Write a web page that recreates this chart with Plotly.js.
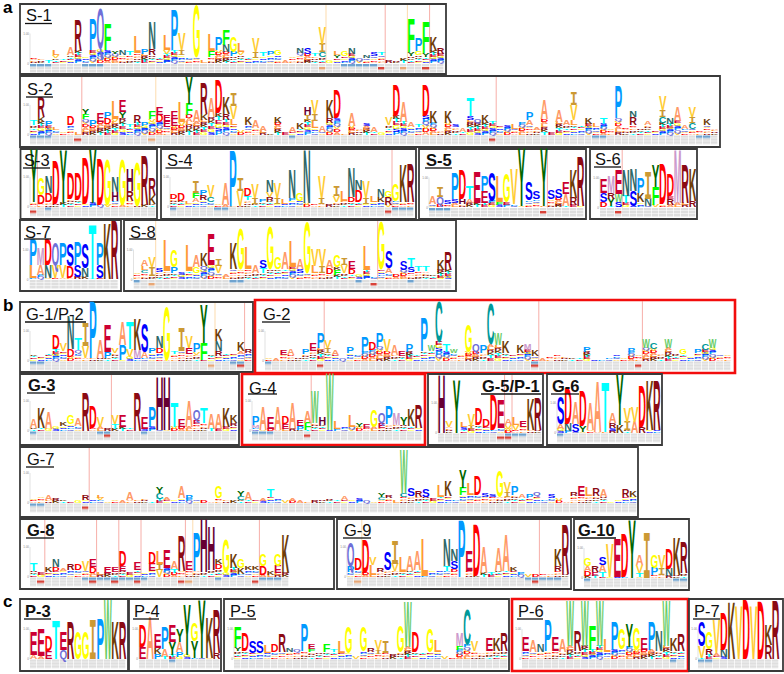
<!DOCTYPE html>
<html><head><meta charset="utf-8">
<script src="https://cdn.plot.ly/plotly-3.0.1.min.js"></script>
<style>html,body{margin:0;padding:0;background:#fff}#chart{width:784px;height:674px}</style>
</head><body><div id="chart"></div>
<script>
// Each column: background height, then residues bottom-to-top as letter + height.
const S1_stacks=["6","5","2","5V3L5","5","8A8","12R30","7","13P31","14Q40","13F25","9Y3","8N5","8T4","10L16","9P5","8R6N27","6","9V4L15","13P39","8I5V17","6","6G51","2","6F6L17","13P13","11N7F15","7P5G15","8V3L9","6","5I6V14","7T4","8P4","8G5","2","7","8Q2N5","9S6","7T3","6C5I8V17","2","5Y3L4","7G5","9N6","4","5N3","7S4","8T3","2","3","4","7Y4F33","8G4P13","6Y4F30","12K14","9R6"];
const S2_stacks=["10T5","13K5R20","9P5","5L3","3","10D9","2","16F5Y5","9P6","13E9","11D6P6","13V3L18","17Y6E11","8T3","12R7","9P4","13V3F8","13D7E7","8E6E6","9E7E7","9V4L20","20F11Y27","13A12","15K6R30","18A19","22D33","15R6K17","10L6V13I13","4","10K7","7A7","4A5","1","12K6","2","3A5","6K6","15I5H8","7L7I7V14","3A6","12R5K18","17D28","1","9A13","7","9S3","3A5","2","10V8","19D30","13A20","8A5","8T3","19D30","12K12","5","12K12","8S3","3A4","15S4T18","12Q4","12K7","13","10","9","6L5","12","10A5P8","5A3","16A19","2","13A11","10A5","10L5V15I13","10","11K6","8L4","11T6","6","17P32","8","10R8N6","6","10A4","5","12C6I7V14","11N6","14A14","6A4","6C6I6V10","5","10K6","7"];
const S3_stacks=["5Y53","3D9G17","5D9N16","3D44","4Y52","8D25","7D27","3D46","4Y54","2D46","2G45","6H9N15","2G45","6R10H22","1G44","2R48","3K9R17"];
const S4_stacks=["8D5","6D7","3L3","5A4F5I12","7R5P5","5C5V12","3","2A22","1P55","1V15I13","7T4D8","3I6V14","5P3","6R4V5N11","3I6V15","3L5","6P3N28","6G8","4N52","3","3I6V21","2","5V6I10","6L10","5D5N29","5D12N10","3I6V16","5L6","5K5N7","2R8G6","6G17","5K37","5R38"];
const S5_stacks=["3A7","2Q8I10","3S4","4S4P26","3H5D29","4A4T13","4E31","4E12P15","4P2S28","2F3L25","2E3G28","3V34","1Y57","7S18","8S8","1Y57","8S9","9S9","1A12E12","2R7K28","1R48"];
const S6_stacks=["0D5S9E14","1Y7R6M17","0S5W8E24","4T7N25","1S15N22","5K9P15","1N7I27","2F18Y22","3D40","2R6E3D22","4M53","4R38","0R6K32"];
const S7_stacks=["1L13P25","4A10M17","1N13D25","1V13Q22","1V13P22","1D12S22","2S12P23","2N9S24","1T53","1S13P21","0K55","0R58"];
const S8_stacks=["7","6C3L4A6","3I9V10","7S4","8L30","6P6G17","4S2","8L25","6G6A12","9Q4K13","14E30","6V7I7","4","10K26","10G39","10L22","6A8","6T5S8","10G42","10G11","10A16","12L25","6S4A10","6G50","6L7V16","6I7V16","5D6A7","4F5K3G11","6V8I7","5D5E8","4","9L24","3","10G47","6A5S17","4","9S9","7S5T9","8T5","8T5","5","9K10","9R18"];
const G1_stacks=["7","5","8","9T3D14","10V8","4D8N33","8Q3T11","3V12I23","3P56","3A18","3P6E27","8V5","1P15A23","4V8T27","3M8K30","3A6S28","8P5","8D5N12","1G52","7T3","10I23","7E6V12","6V3P9","1F17Y38","7","5R5N10K11","8","8","7A3K9","8R4"];
const G2_stacks=["3","2","6E5","6A6","3","7P5","10E7","13P15","8I5V7","6A5","2","8P6","7","9P15","11D7","14P14","9V13","6A10","5E5","9P7","7","10P33","10W6","19C40","9T8","8W4","7","9G27","9Q8","8P7","17C40","16W11","8K11","6","8K8","11M6","5K6","2","5","6","5","3","3","9P5","1","1","3","6","3","9P4","6","13W9","12C6","8","13W9","8","7G5","5","8P4","11C6","13W9","6","6"];
const G3_stacks=["3A9","3K20","2A17","4","5K4","7G9","5A7","0R38","3D22","4V10","2","2T5V9","4E11","3","0R38","2E11","4P20","1H53","1H53","4T24","4E8","4A26","7E4Q10","8T15","2A15","2A15","4K19","5R3K7"];
const G4_stacks=["3M3P9","1A23","2E12","1A23","2E5D8","2A25","1P4E6","1F7A12","8W32","6H8","1W56","2L8","5","4L11","4Y4","3E4","4G16","3E5Q10","7P18","6M11","6Y8","5K16","3R23"];
const G5_stacks=["0H58","6V6","0Y53","3S3L5","4I3V12","8D17","6D8","3D35","5E28","4V4A6","3V5L7","6E6","3K30","3R32"];
const G6_stacks=["4A5S27","2N7D36","1S8A22","1Y6D35","3A27","1A50","1T49","2S3R5A10","0K8Y50","3I8V14","0A11V15","0R6D41","3K48","3R48"];
const G7_stacks=["5","6","3A5","4","3","0.5","2","3R5","3","3V2L3","1","3","2","3A8","3","5","1","4C6Y6","3A3","3","5A12","4P4","3","2","1","5G12","3","2","3C4Y5","3A7","3","2A3","6T8","5","2","2A2","2","1","2","3","5","3","3A4","3","4","2","1","3C3Y4","5R3","2","6C4W43","7S8","6R6","6S8","4","6L11","7K15","3","8F7Y18","8L12","8D19","6S4","6S3","6G25","6I5V10","8P9","5A4","5P4","7Q4","3","5S4","4","0.5","7R4","7E10","7L9","7R7","6A8","1","3","6R7","6K6"];
const G8_stacks=["6T7","4","5K5","6D4N8","6A3","7R6","7D6","6V10","4D6E8","4","4E6","5E5","6E5D15","4","7E8","5","6E7D12","0V7I6L13","9E18","4T4A8","6R35","7E9","6P38","5H52","7H44","8D5K5","4G33","9K14","3K6G9","7K4","7K4","2D9G11","2K4","4E7G12","4K38"];
const G9_stacks=["5P6Q23","7D11","4D33","2L10V8","5R4","7S18","6V7I23","5L15","6A15","7A19","1L37","6","6","6T5N27","5D3S8N12","0P56","6E20","1D51","4A26","4","6A23","6A36","6K4","4","2","2","3","3","6R5K17","3R48"];
const G10_stacks=["2D5A5G7","2E4R6","1T5A7S8","1V33","1E38","1D43","0Y58","1T4V8A10","0I45","3P7G13","3I7V13","2N7D20","3K37","5R30"];
const P3_stacks=["0A4E23","0A3E27","0E8D15","0T38","0Q9E18","0R37","0G27","0G27","0I39","0P39","0W59","0K37","0R37"];
const P4_stacks=["0E12D22","0A42","0P5K6E14","2A8P22","4Y13E17","2P5A10Y13","4Y50","1Y17G18","1Y58","1K40","0R6R43"];
const P5_stacks=["8Y4F20","8D18","6S12","6S12","6L8","7D7","7R18","7N4","7Q3","8P27","7F3E5","6","7F8","7T2","6L12","6G26","2","8G24","7R4","5I4V10","6I12","4","7G25","12W45","7D20","7","7G23","7L12","2","1","9F4M13","14C35","8V10","6","8E13","8K13","8R18"];
const P6_stacks=["8E14","7A12","7N8","8P30","8E14","7A13","13W45","8R20","13W45","9F24","13W45","7L13","9P28","10G20","12Y23","9G22","9E12","9P28","8N20","13W45","8K13","8R17"];
const P7_stacks=["1V12S24","4R6G17","3A3V33","2N7D37","0K56","0V52","0D59","0V52","0D57","0R14K20","0R58"];

// Annotated columns in the table under each logo.
const S1_red=[47,53], S1_orange=[39,50], S1_blue=[0,1,2,7,8,9,42,43,44,45,46];
const S2_red=[6,62], S2_orange=[16], S2_blue=[0,1,2,35,76,77,90,91];
const S3_red=[0], S3_orange=[], S3_blue=[2];
const S4_red=[29], S4_orange=[], S4_blue=[0,6,7,30,31,32];
const S5_red=[15], S5_orange=[], S5_blue=[0,1,2];
const S6_red=[2], S6_orange=[], S6_blue=[];
const S7_red=[], S7_orange=[], S7_blue=[];
const S8_red=[32], S8_orange=[2], S8_blue=[0,13,14,30,37];
const G1_red=[28], G1_orange=[24], G1_blue=[0,1,27,28];
const G2_red=[7,36,50], G2_orange=[], G2_blue=[0,36];
const G3_red=[10], G3_orange=[], G3_blue=[0,9,10,15];
const G4_red=[7], G4_orange=[], G4_blue=[0,1,2];
const G5_red=[8,9], G5_orange=[], G5_blue=[9,10,11];
const G6_red=[], G6_orange=[], G6_blue=[0];
const G7_red=[7], G7_orange=[], G7_blue=[0,1];
const G8_red=[1,8,11,14,20,30], G8_orange=[21], G8_blue=[7,8,9,10,11,12,13,14,15,25,31,32,33];
const G9_red=[25], G9_orange=[1], G9_blue=[24,25,26,27,28];
const G10_red=[], G10_orange=[], G10_blue=[0,12,13];
const P3_red=[], P3_orange=[], P3_blue=[];
const P4_red=[], P4_orange=[], P4_blue=[4];
const P5_red=[], P5_orange=[], P5_blue=[];
const P6_red=[], P6_orange=[], P6_blue=[20];
const P7_red=[], P7_orange=[], P7_blue=[0,1];

const residueColors={A:"#ff9966",R:"#8b0a14",N:"#2f6868",D:"#ff0000",C:"#009999",Q:"#6f6fd8",E:"#cc0033",G:"#ffff00",H:"#660033",I:"#cc9933",L:"#ff9933",K:"#6e3d08",M:"#cc99cc",F:"#00ff00",P:"#0099ff",S:"#0000ff",T:"#00ffff",W:"#66cc66",Y:"#006600",V:"#ffcc33"};
const backgroundLetters=["R","S","A","E","V","K","P","L","G","D","T","Q"];
const axisTickValues=[0,30], axisTickLabels=["0","1.00"];

// Layout of the panels (frame in page pixels, logo origin, column count comes from the stacks).
const COL=7.4, LOGO_H=60, STRIP_H=10, W=784, H=674, FS=40;
const panels=[
 {t:"S-1",s:S1_stacks,r:S1_red,o:S1_orange,b:S1_blue,f:[20,446,4,74],x0:30,y0:63.5,lab:[25,15,52,23.5]},
 {t:"S-2",s:S2_stacks,r:S2_red,o:S2_orange,b:S2_blue,f:[20,720,76,147],x0:30,y0:135,lab:[26,89,53,97]},
 {t:"S-3",s:S3_stacks,r:S3_red,o:S3_orange,b:S3_blue,f:[20.5,157,149,219],x0:30,y0:207,lab:[23,160,50,168]},
 {t:"S-4",s:S4_stacks,r:S4_red,o:S4_orange,b:S4_blue,f:[161,416,149,219],x0:170,y0:207,lab:[165.5,160,192,168]},
 {t:"S-5",bold:1,s:S5_stacks,r:S5_red,o:S5_orange,b:S5_blue,f:[419,586,149,219],x0:429,y0:207.5,lab:[425,160,452,168]},
 {t:"S-6",s:S6_stacks,r:S6_red,o:S6_orange,b:S6_blue,f:[590,697,149,219],x0:600,y0:207.5,lab:[594,159,621,167]},
 {t:"S-7",s:S7_stacks,r:S7_red,o:S7_orange,b:S7_blue,f:[20,121,220,291],x0:29.5,y0:279.5,lab:[24,232,51,239]},
 {t:"S-8",s:S8_stacks,r:S8_red,o:S8_orange,b:S8_blue,f:[124,456,220,291],x0:133.5,y0:279.5,lab:[129,232,156,239]},
 {t:"G-1/P-2",s:G1_stacks,r:G1_red,o:G1_orange,b:G1_blue,f:[20,253,302,372],x0:30,y0:361,lab:[25,314,86,322]},
 {t:"G-2",red:1,s:G2_stacks,r:G2_red,o:G2_orange,b:G2_blue,f:[255,735,300,373],x0:265,y0:361,lab:[262,314,290,322]},
 {t:"G-3",bold:1,s:G3_stacks,r:G3_red,o:G3_orange,b:G3_blue,f:[20,239,374,445],x0:30,y0:431,lab:[27,385,55,393]},
 {t:"G-4",red:1,s:G4_stacks,r:G4_red,o:G4_orange,b:G4_blue,f:[242,425,374,445],x0:252,y0:431,lab:[248,388,277,394]},
 {t:"G-5/P-1",bold:1,s:G5_stacks,r:G5_red,o:G5_orange,b:G5_blue,f:[428,543,374,445],x0:438,y0:433,lab:[481,386,541,394]},
 {t:"G-6",bold:1,s:G6_stacks,r:G6_red,o:G6_orange,b:G6_blue,f:[547,662,374,445],x0:557,y0:433,lab:[551,386,579,394]},
 {t:"G-7",s:G7_stacks,r:G7_red,o:G7_orange,b:G7_blue,f:[20,638,447,517],x0:30,y0:503,lab:[26,459,54,467]},
 {t:"G-8",bold:1,s:G8_stacks,r:G8_red,o:G8_orange,b:G8_blue,f:[20,334,519,589],x0:30,y0:577,lab:[26,530,54,538]},
 {t:"G-9",s:G9_stacks,r:G9_red,o:G9_orange,b:G9_blue,f:[337,571,519,589],x0:347,y0:577,lab:[343,530,371,538]},
 {t:"G-10",bold:1,s:G10_stacks,r:G10_red,o:G10_orange,b:G10_blue,f:[574,689,519,590],x0:584,y0:578,lab:[577,530,616,538]},
 {t:"P-3",bold:1,s:P3_stacks,r:P3_red,o:P3_orange,b:P3_blue,f:[20,128,599,671],x0:30,y0:659,lab:[24,611,51,619]},
 {t:"P-4",s:P4_stacks,r:P4_red,o:P4_orange,b:P4_blue,f:[129,221,599,671],x0:139,y0:659,lab:[133,611,159,619]},
 {t:"P-5",s:P5_stacks,r:P5_red,o:P5_orange,b:P5_blue,f:[224,509,599,671],x0:234,y0:659,lab:[229,611,256,619]},
 {t:"P-6",red:1,s:P6_stacks,r:P6_red,o:P6_orange,b:P6_blue,f:[512,688,599,671],x0:522,y0:659,lab:[517,611,543,619]},
 {t:"P-7",s:P7_stacks,r:P7_red,o:P7_orange,b:P7_blue,f:[689,783,599,671],x0:698,y0:659,lab:[693,611,720,619]}
];
const sectionLabels=[["a",2,8],["b",2,305],["c",2,601]];

const px=v=>v/W, py=v=>1-v/H;
const traces=[], shapes=[], annotations=[];
const layout={width:W,height:H,margin:{l:0,r:0,t:0,b:0,pad:0},paper_bgcolor:"#fff",plot_bgcolor:"rgba(0,0,0,0)",showlegend:false,hovermode:false};

panels.forEach((p,i)=>{
  const k=i===0?"":String(i+1), xn="xaxis"+k, yn="yaxis"+k, xr="x"+k, yr="y"+k, n=p.s.length;
  layout[xn]={domain:[px(p.x0),px(p.x0+n*COL)],range:[0,n],anchor:yr,visible:false,fixedrange:true};
  layout[yn]={domain:[py(p.y0+STRIP_H),py(Math.max(0,p.y0-LOGO_H))],range:[-STRIP_H,Math.min(LOGO_H,p.y0)],anchor:xr,showgrid:false,zeroline:false,
    showline:false,ticks:"",tickmode:"array",tickvals:axisTickValues,ticktext:axisTickLabels,tickfont:{size:3,color:"#888",family:"Liberation Sans"},fixedrange:true};

  shapes.push({type:"rect",xref:"paper",yref:"paper",layer:"below",x0:px(p.f[0]),x1:px(p.f[1]),y0:py(p.f[3]),y1:py(p.f[2]),
    line:{color:p.red?"#f20d0d":"#3a3a3a",width:p.red?2.6:1.8},fillcolor:"#fff"});
  shapes.push({type:"line",xref:xr+" domain",yref:yr,layer:"below",x0:0,x1:0,y0:0,y1:30,line:{color:"#cfcfcf",width:0.6}});

  const rowsY=[-2,-5,-8], zRows=rowsY.map(()=>new Array(n).fill(0));
  p.b.forEach(c=>{zRows[0][c]=1;});
  p.r.forEach(c=>{zRows[1][c]=2;});
  p.o.forEach(c=>{zRows[1][c]=3;});
  traces.push({type:"heatmap",xaxis:xr,yaxis:yr,x:p.s.map((_,c)=>c+0.5),y:rowsY,z:zRows,zmin:0,zmax:3,showscale:false,xgap:0.7,ygap:0.5,hoverinfo:"skip",
    colorscale:[[0,"#dfdfdf"],[0.33,"#dfdfdf"],[0.33,"#6fa3cf"],[0.5,"#6fa3cf"],[0.5,"#d8443a"],[0.83,"#d8443a"],[0.83,"#e8a877"],[1,"#e8a877"]]});

  const topU=p.y0-p.f[2]-1;
  p.r.forEach(c=>shapes.push({type:"line",xref:xr,yref:yr,layer:"below",x0:c+1,x1:c+1,y0:0,y1:topU,line:{color:"rgba(240,120,110,0.6)",width:1}}));
  p.o.forEach(c=>shapes.push({type:"line",xref:xr,yref:yr,layer:"below",x0:c+1,x1:c+1,y0:0,y1:topU,line:{color:"rgba(250,200,130,0.65)",width:1}}));

  const xs=[],ys=[],txt=[],cols=[],fams=[],cd=[];
  p.s.forEach((col,c)=>{
    const base=parseFloat(col.match(/^[\d.]+/)[0]);
    let y=0;
    const count=Math.min(6,Math.round(base/1.7));
    if(base>0){
      const m=Math.max(1,count), h=base/m;
      for(let j=0;j<m;j++){
        const L=backgroundLetters[(c*5+j*7+i)%backgroundLetters.length];
        xs.push(c+0.5);ys.push(y);txt.push(L);cols.push(residueColors[L]);fams.push("Liberation Sans");cd.push([h,k]);
        y+=h;
      }
    }
    const re=/([A-Z])([\d.]+)/g; let mt;
    while((mt=re.exec(col))){
      const L=mt[1],h=parseFloat(mt[2]);
      xs.push(c+0.5);ys.push(y);txt.push(L);cols.push(residueColors[L]);fams.push(L==="I"?"Liberation Mono":"Liberation Sans");cd.push([h,k]);
      y+=h;
    }
  });
  traces.push({type:"scatter",mode:"text",xaxis:xr,yaxis:yr,x:xs,y:ys,text:txt,customdata:cd,textposition:"middle center",cliponaxis:false,hoverinfo:"skip",
    textfont:{size:FS,color:cols,family:fams,weight:700}});

  annotations.push({xref:"paper",yref:"paper",x:px(p.lab[0]),y:py(p.lab[1]),xanchor:"left",yanchor:"middle",showarrow:false,align:"left",borderpad:0,
    text:p.bold?"<b>"+p.t+"</b>":p.t,font:{family:"Liberation Sans",size:16.5,color:"#111"}});
  shapes.push({type:"line",xref:"paper",yref:"paper",layer:"above",x0:px(p.lab[0]),x1:px(p.lab[2]),y0:py(p.lab[3]),y1:py(p.lab[3]),line:{color:"#111",width:1.3}});
});
sectionLabels.forEach(s=>annotations.push({xref:"paper",yref:"paper",x:px(s[1]),y:py(s[2]),xanchor:"left",yanchor:"middle",showarrow:false,borderpad:0,
  text:"<b>"+s[0]+"</b>",font:{family:"Liberation Sans",size:17,color:"#000"}}));
layout.shapes=shapes; layout.annotations=annotations;

Plotly.newPlot("chart",traces,layout,{staticPlot:true,displayModeBar:false}).then(gd=>{
  const fl=gd._fullLayout, cap={"Liberation Sans":0.69,"Liberation Mono":0.66};
  document.querySelectorAll("g.textpoint").forEach(g=>{
    const t=g.querySelector("text"), d=g.__data__;
    if(!t||!d||!d.data) return;
    const ya=fl["yaxis"+d.data[1]], xa=fl["xaxis"+d.data[1]];
    const x=+t.getAttribute("x"), y=+t.getAttribute("y"), box=t.getBBox();
    const fam=/Mono/.test(t.style.fontFamily)?"Liberation Mono":"Liberation Sans";
    const sy=d.data[0]*Math.abs(ya._m)/(cap[fam]*FS), sx=Math.abs(xa._m)*1.04/(box.width||1);
    g.removeAttribute("transform");
    t.setAttribute("transform","translate("+x+","+y+") scale("+sx+","+sy+") translate("+(-x)+","+(-y)+")");
  });
});
</script></body></html>
